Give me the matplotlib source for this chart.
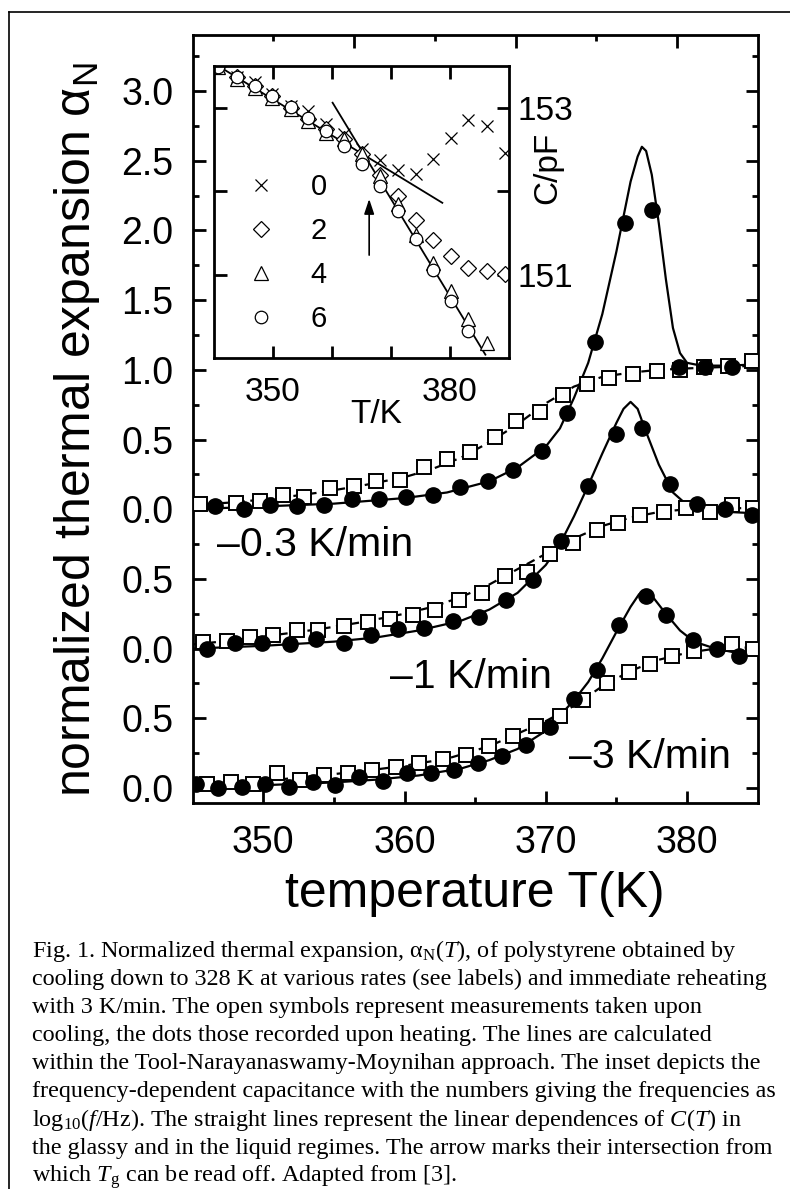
import numpy as np
import matplotlib
matplotlib.use("Agg")
import matplotlib.pyplot as plt
from matplotlib import font_manager as fm
from matplotlib.lines import Line2D

# ---- main panel data (T in K, normalized expansion) ----
# -3 K/min (offset 0)
T3_heat = [345.2, 346.8, 348.5, 350.1, 351.8, 353.5, 355.1, 356.8, 358.5, 360.2, 361.9, 363.5,
           365.2, 366.9, 368.6, 370.3, 372.0, 373.6, 375.2, 377.1, 378.5, 380.4, 382.1, 383.7]
a3_heat = [0.03, 0.0, 0.01, 0.03, 0.01, 0.04, 0.02, 0.08, 0.05, 0.11, 0.105, 0.13,
           0.18, 0.23, 0.31, 0.435, 0.64, 0.85, 1.17, 1.38, 1.24, 1.06, 1.0, 0.95]
T3_cool = [346.0, 347.7, 349.3, 351.0, 352.6, 354.3, 356.0, 357.7, 359.4, 361.0, 362.7, 364.35,
           366.0, 367.65, 369.3, 371.0, 372.6, 374.3, 375.9, 377.4, 378.9, 380.5, 383.2, 384.7]
a3_cool = [0.03, 0.045, 0.03, 0.105, 0.06, 0.09, 0.105, 0.13, 0.15, 0.18, 0.21, 0.24,
           0.30, 0.37, 0.445, 0.52, 0.63, 0.755, 0.83, 0.89, 0.95, 0.98, 1.03, 1.0]
T3_fit_h = [345, 350, 355, 358, 361, 364, 366, 368, 370, 372, 373, 374, 375, 376, 376.6, 377,
            377.5, 378.5, 379.5, 380.5, 382, 384, 385]
a3_fit_h = [0.0, 0.02, 0.04, 0.06, 0.09, 0.14, 0.2, 0.28, 0.41, 0.63, 0.76, 0.93, 1.12, 1.3, 1.39, 1.42,
            1.38, 1.25, 1.13, 1.05, 1.0, 0.96, 0.95]
T3_fit_c = [345, 348, 351, 354, 357, 360, 363, 366, 368, 370, 372, 374, 376, 378, 380, 382, 385]
a3_fit_c = [0.02, 0.04, 0.06, 0.09, 0.12, 0.16, 0.21, 0.3, 0.39, 0.48, 0.59, 0.73, 0.84, 0.92, 0.97, 1.0, 1.01]

# -1 K/min (offset 1)
T1_heat = [346.0, 348.0, 349.9, 351.9, 353.7, 355.7, 357.6, 359.5, 361.4, 363.4, 365.3, 367.2,
           369.1, 371.1, 373.0, 375.0, 376.8, 378.8, 380.7, 382.7, 384.6]
a1_heat = [0.0, 0.04, 0.04, 0.03, 0.07, 0.04, 0.10, 0.14, 0.15, 0.20, 0.23, 0.35,
           0.49, 0.77, 1.17, 1.54, 1.58, 1.18, 1.04, 1.0, 0.96]
T1_cool = [345.75, 347.4, 349.06, 350.7, 352.4, 353.9, 355.7, 357.4, 359.0, 360.6, 362.15, 363.85,
           365.45, 367.1, 368.7, 370.3, 371.9, 373.6, 375.1, 376.7, 378.4, 379.9, 381.6, 383.2, 384.7]
a1_cool = [0.05, 0.057, 0.08, 0.10, 0.13, 0.13, 0.16, 0.19, 0.21, 0.24, 0.28, 0.35,
           0.40, 0.52, 0.55, 0.68, 0.76, 0.85, 0.90, 0.96, 0.98, 1.01, 0.98, 1.03, 1.01]
T1_fit_h = [345, 350, 355, 358, 361, 364, 366, 368, 370, 371, 372, 373, 374, 375, 375.5, 376,
            376.5, 377, 378, 379, 380, 381, 383, 385]
a1_fit_h = [0.0, 0.02, 0.05, 0.08, 0.13, 0.2, 0.28, 0.4, 0.6, 0.75, 0.95, 1.17, 1.4, 1.62, 1.72, 1.77,
            1.72, 1.58, 1.32, 1.12, 1.03, 1.0, 0.98, 0.97]
T1_fit_c = [345, 348, 351, 354, 357, 360, 362, 364, 366, 368, 370, 372, 374, 376, 378, 380, 385]
a1_fit_c = [0.03, 0.06, 0.1, 0.14, 0.19, 0.25, 0.3, 0.37, 0.46, 0.57, 0.68, 0.79, 0.88, 0.94, 0.98, 1.0, 1.01]

# -0.3 K/min (offset 2)
T03_heat = [346.6, 348.6, 350.5, 352.4, 354.3, 356.3, 358.2, 360.1, 362.0, 363.9, 365.9, 367.7,
            369.7, 371.5, 373.5, 375.6, 377.5, 379.4, 381.3, 383.2]
a03_heat = [0.02, 0.005, 0.03, 0.02, 0.03, 0.07, 0.075, 0.09, 0.10, 0.16, 0.20, 0.28,
            0.42, 0.69, 1.2, 2.05, 2.15, 1.02, 1.02, 1.02]
T03_cool = [345.5, 348.1, 349.75, 351.4, 352.9, 354.7, 356.4, 358.0, 359.7, 361.4, 363.0, 364.6,
            366.4, 367.9, 369.6, 371.2, 372.9, 374.5, 376.2, 377.9, 379.5, 381.2, 382.9, 384.6]
a03_cool = [0.04, 0.045, 0.057, 0.10, 0.09, 0.15, 0.17, 0.20, 0.21, 0.30, 0.36, 0.41,
            0.52, 0.63, 0.70, 0.82, 0.90, 0.94, 0.97, 0.99, 1.0, 1.02, 1.03, 1.06]
T03_fit_h = [345, 350, 355, 360, 363, 366, 368, 370, 371, 372, 373, 374, 375, 375.5, 376, 376.5,
             376.8, 377.1, 377.5, 378, 378.5, 379, 379.5, 380, 381, 383, 385]
a03_fit_h = [0.0, 0.02, 0.04, 0.08, 0.12, 0.2, 0.3, 0.45, 0.58, 0.8, 1.05, 1.4, 1.85, 2.1, 2.35, 2.53,
             2.6, 2.57, 2.4, 2.05, 1.65, 1.3, 1.12, 1.05, 1.03, 1.03, 1.04]
T03_fit_c = [345, 348, 351, 354, 357, 360, 362, 364, 366, 368, 370, 372, 374, 376, 378, 380, 385]
a03_fit_c = [0.03, 0.05, 0.08, 0.12, 0.17, 0.23, 0.29, 0.37, 0.48, 0.61, 0.76, 0.88, 0.95, 0.98, 1.0, 1.01, 1.03]

offsets = [0.0, 1.0, 2.0]
ytick_labels = ["0.0", "0.5", "0.0", "0.5", "0.0", "0.5", "1.0", "1.5", "2.0", "2.5", "3.0"]
rate_labels = ["\u20133 K/min", "\u20131 K/min", "\u20130.3 K/min"]

# ---- inset data: capacitance (pF) vs T (K) ----
Tin = [340.7, 343.9, 346.9, 349.9, 353.0, 356.0, 359.0, 362.0, 365.1, 368.2, 371.2, 374.2, 377.2,
       380.2, 383.1, 386.2, 389.3]
C_f0 = [153.49, 153.37, 153.31, 153.16, 153.02, 152.96, 152.81, 152.68, 152.51, 152.37, 152.25, 152.21,
        152.39, 152.64, 152.85, 152.78, 152.46]
C_f2 = [153.5, 153.37, 153.26, 153.14, 153.0, 152.86, 152.74, 152.62, 152.44, 152.19, 151.94, 151.66,
        151.42, 151.22, 151.08, 151.04, 151.01]
C_f4 = [153.49, 153.34, 153.24, 153.12, 152.98, 152.84, 152.70, 152.62, 152.44, 152.18, 151.84, 151.48,
        151.14, 150.80, 150.47, 150.18]
C_f6 = [153.49, 153.37, 153.26, 153.14, 153.01, 152.88, 152.72, 152.54, 152.32, 152.06, 151.76, 151.43,
        151.06, 150.68, 150.32]
freq_labels = ["0", "2", "4", "6"]
glass_T = [339.8, 378.7]
glass_C = [153.54, 151.86]
liquid_T = [360.1, 386.0]
liquid_C = [153.06, 150.04]
Tg_arrow = 366.3

caption = [
    r"Fig. 1. Normalized thermal expansion, $\mathrm{\alpha}_{\mathrm{N}}(\mathit{T})$, of polystyrene obtained by",
    "cooling down to 328 K at various rates (see labels) and immediate reheating",
    "with 3 K/min. The open symbols represent measurements taken upon",
    "cooling, the dots those recorded upon heating. The lines are calculated",
    "within the Tool-Narayanaswamy-Moynihan approach. The inset depicts the",
    "frequency-dependent capacitance with the numbers giving the frequencies as",
    r"log$_{10}$($\mathit{f}$/Hz). The straight lines represent the linear dependences of $\mathit{C}$($\mathit{T}$) in",
    "the glassy and in the liquid regimes. The arrow marks their intersection from",
    r"which $\mathit{T}_{g}$ can be read off. Adapted from [3].",
]

# ---- fonts ----
names = {f.name for f in fm.fontManager.ttflist}
label_font = "Liberation Sans Narrow" if "Liberation Sans Narrow" in names else "Liberation Sans"
label_size = 42 if label_font == "Liberation Sans Narrow" else 36

plt.rcParams["font.family"] = ["Liberation Sans", "DejaVu Sans"]
plt.rcParams["mathtext.fontset"] = "custom"
plt.rcParams["mathtext.rm"] = "Liberation Serif"
plt.rcParams["mathtext.it"] = "Liberation Serif:italic"
plt.rcParams["mathtext.default"] = "regular"

W, H = 790, 1189
fig = plt.figure(figsize=(W / 100, H / 100), dpi=100)

# outer frame (top and left edges of the scanned box)
fig.add_artist(Line2D([9.3 / W, 1.0], [1 - 11.7 / H, 1 - 11.7 / H], color="black", lw=1.2))
fig.add_artist(Line2D([9.3 / W, 9.3 / W], [0.0, 1 - 11.7 / H], color="black", lw=1.2))

# ---- main axes ----
ax = fig.add_axes([192.7 / W, 1 - 803 / H, 565 / W, 768 / H])
for sp in ax.spines.values():
    sp.set_linewidth(2.0)

series = [
    (T3_heat, a3_heat, T3_cool, a3_cool, T3_fit_h, a3_fit_h, T3_fit_c, a3_fit_c),
    (T1_heat, a1_heat, T1_cool, a1_cool, T1_fit_h, a1_fit_h, T1_fit_c, a1_fit_c),
    (T03_heat, a03_heat, T03_cool, a03_cool, T03_fit_h, a03_fit_h, T03_fit_c, a03_fit_c),
]
for off, (th, ah, tc, ac, tfh, afh, tfc, afc) in zip(offsets, series):
    ax.plot(tfc, np.array(afc) + off, color="black", lw=1.6, ls=(0, (4, 2.5)), zorder=2)
    ax.plot(tfh, np.array(afh) + off, color="black", lw=1.6, zorder=2)
    ax.plot(tc, np.array(ac) + off, ls="none", marker="s", ms=10, mfc="white", mec="black",
            mew=1.4, zorder=3)
    ax.plot(th, np.array(ah) + off, ls="none", marker="o", ms=11, mfc="black", mec="black", zorder=4)

ax.set_xlim(345, 385)
ax.set_ylim(-0.1076, 5.402)
ax.set_xticks([350, 360, 370, 380])
ax.set_xticks([355, 365, 375], minor=True)
ax.set_yticks(np.arange(0, 5.01, 0.5))
ax.set_yticklabels(ytick_labels)
ax.set_yticks(np.arange(0.25, 5.3, 0.5), minor=True)
ax.tick_params(axis="both", which="both", direction="in", width=2.0, labelsize=27)
ax.tick_params(axis="both", which="major", length=9)
ax.tick_params(axis="both", which="minor", length=4.5)
ax.tick_params(axis="y", which="both", right=True, pad=14)
ax.tick_params(axis="x", which="both", top=False, pad=16)

# top axis has its own, evenly spaced ticks
axt = ax.twiny()
axt.set_xlim(0, 7)
axt.set_xticks([2, 4, 6])
axt.set_xticks([1, 3, 5], minor=True)
axt.tick_params(axis="x", which="both", direction="in", width=2.0, labeltop=False)
axt.tick_params(axis="x", which="major", length=9)
axt.tick_params(axis="x", which="minor", length=4.5)

ax.set_xlabel("temperature T(K)", fontsize=label_size, family=label_font)
ax.xaxis.set_label_coords(0.5, -0.088)
ax.set_ylabel(r"normalized thermal expansion $\alpha_N$", fontsize=label_size, family=label_font)
ax.yaxis.set_label_coords(-0.16, 0.486)

text_pos = [(371.65, 0.222), (358.97, 0.796), (346.7, 1.743)]
for (tx, ty), lab in zip(text_pos, rate_labels):
    ax.text(tx, ty, lab, fontsize=29.5, va="center", ha="left")

# ---- inset ----
axi = fig.add_axes([214 / W, 1 - 358 / H, 295 / W, 292 / H])
for sp in axi.spines.values():
    sp.set_linewidth(2.0)
axi.plot(glass_T, glass_C, color="black", lw=1.3)
axi.plot(liquid_T, liquid_C, color="black", lw=1.3)
mk = dict(ls="none", mfc="white", mec="black", mew=0.9)
h0, = axi.plot(Tin, C_f0, marker="x", ms=9, color="black", ls="none", mew=0.9)
h2, = axi.plot(Tin, C_f2, marker="D", ms=8, **mk)
h4, = axi.plot(Tin[:len(C_f4)], C_f4, marker="^", ms=10, **mk)
h6, = axi.plot(Tin[:len(C_f6)], C_f6, marker="o", ms=9, **mk)
axi.annotate("", xy=(Tg_arrow, 151.94), xytext=(Tg_arrow, 151.2),
             arrowprops=dict(arrowstyle="-|>,head_length=0.9,head_width=0.3", color="black", lw=1.2))
axi.set_xlim(340, 390)
axi.set_ylim(150.0, 153.5)
axi.set_xticks([350, 360, 370, 380])
axi.set_xticklabels(["350", "", "", "380"])
axi.set_yticks([151, 153])
axi.set_yticks([152], minor=True)
axi.tick_params(axis="both", which="both", direction="in", width=2.0, labelsize=24,
                top=True, right=True, labelleft=False, labelright=True)
axi.tick_params(axis="both", which="major", length=9)
axi.tick_params(axis="both", which="minor", length=9)
axi.tick_params(axis="x", pad=14)
axi.tick_params(axis="y", pad=6)
axi.text(0.549, -0.195, "T/K", transform=axi.transAxes, fontsize=24, ha="center", va="center")
axi.text(1.13, 0.65, "C/pF", transform=axi.transAxes, fontsize=24, ha="center", va="center",
         rotation=90)
axi.legend([h0, h2, h4, h6], freq_labels, loc="center left", bbox_to_anchor=(0.06, 0.36),
           frameon=False, fontsize=21, handlelength=1.0, handletextpad=1.2, labelspacing=0.55,
           borderpad=0.0)

# ---- caption ----
for i, line in enumerate(caption):
    fig.text(31.7 / W, 1 - (957 + 28.1 * i) / H, line, fontsize=17.4, family="Liberation Serif",
             ha="left", va="baseline")

fig.savefig("out.png", dpi=100)
